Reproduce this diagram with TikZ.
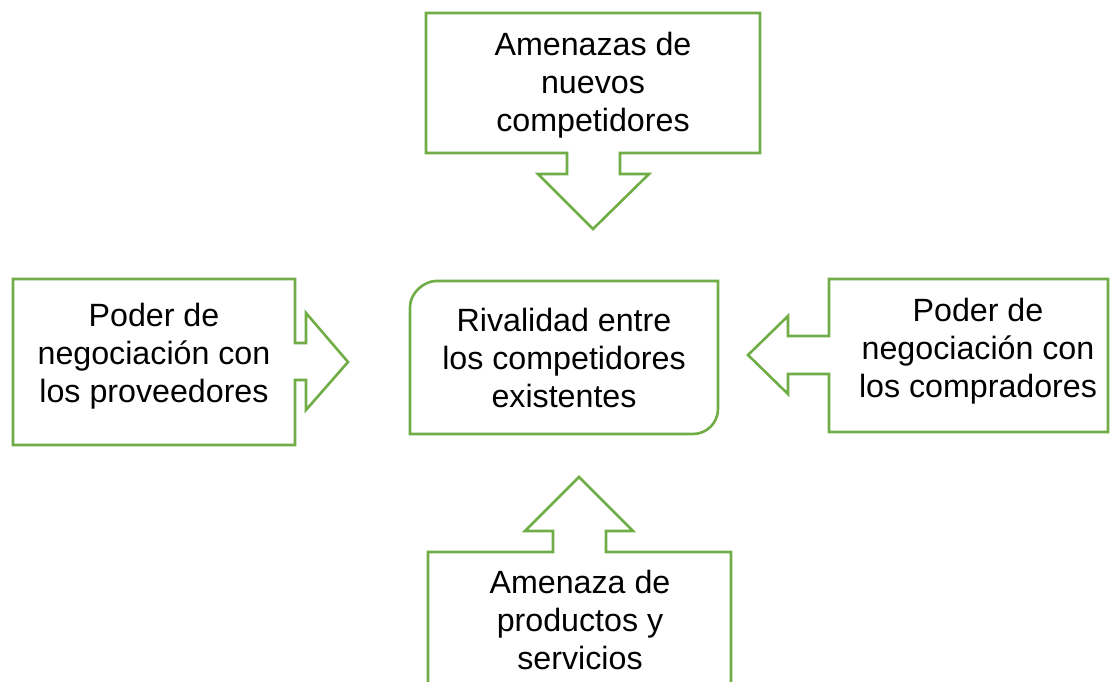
\documentclass[tikz,border=0pt]{standalone}
\usepackage{fontspec}
\setmainfont{Liberation Sans}
\definecolor{ogreen}{RGB}{112,173,71}
\begin{document}
\begin{tikzpicture}[x=1pt,y=-1pt,
  shapeline/.style={draw=ogreen,line width=2.6pt,line join=miter,fill=white},
  lbl/.style={align=center,inner sep=0pt,font=\fontsize{32.2}{38}\selectfont,text=black}]
\useasboundingbox (0,0) rectangle (1110,682);
% top callout (down arrow)
\draw[shapeline] (426,13) -- (760,13) -- (760,153) -- (620,153) -- (620,174) -- (649,174)
  -- (593,229) -- (538,174) -- (567,174) -- (567,153) -- (426,153) -- cycle;
% left callout (right arrow)
\draw[shapeline] (13,279) -- (295,279) -- (295,343) -- (306,343) -- (306,313) -- (348,362)
  -- (306,410) -- (306,380) -- (295,380) -- (295,445) -- (13,445) -- cycle;
% right callout (left arrow)
\draw[shapeline] (1108,279) -- (829,279) -- (829,336) -- (788,336) -- (788,316) -- (748,355)
  -- (788,394) -- (788,374) -- (829,374) -- (829,432) -- (1108,432) -- cycle;
% bottom callout (up arrow), cut at the lower edge
\fill[white] (428,552) rectangle (731,690);
\draw[draw=ogreen,line width=2.6pt,line join=miter] (428,690) -- (428,552) -- (553,552) -- (553,531) -- (525,531)
  -- (579,477) -- (633,531) -- (606,531) -- (606,552) -- (731,552) -- (731,690);
% center box with two rounded corners
\draw[shapeline] (410,434) -- (410,307) .. controls (410,292.6) and (424.4,281) .. (436,281)
  -- (718,281) -- (718,409) .. controls (718,422.8) and (706.8,434) .. (693,434) -- cycle;
% texts
\node[lbl] (nuevos) at (593,85) {Amenazas de\\nuevos\\competidores};
\node[lbl] (prov) at (154,356) {Poder de\\negociación con\\los proveedores};
\node[lbl] (rival) at (564,357.5) {Rivalidad entre\\los competidores\\existentes};
\node[lbl] (comp) at (978,351.5) {Poder de\\negociación con\\los compradores};
\node[lbl] (sust) at (580,620) {Amenaza de\\productos y\\servicios};
\end{tikzpicture}
\end{document}
